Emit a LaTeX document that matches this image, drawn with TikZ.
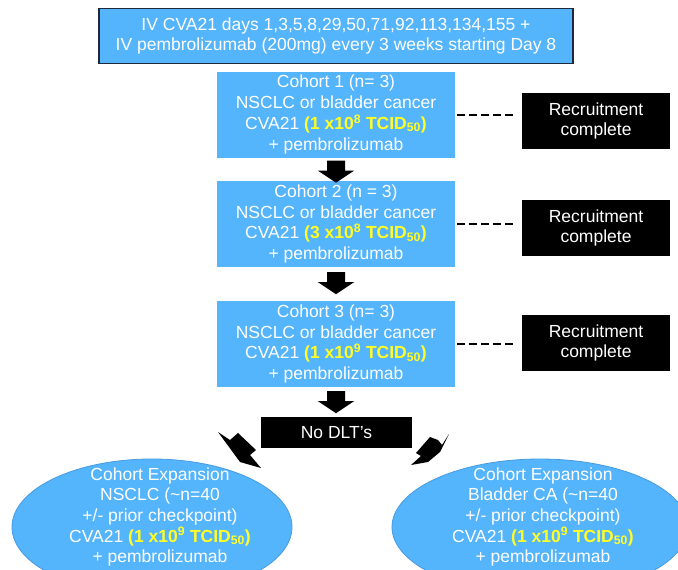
\documentclass[tikz,border=0pt]{standalone}
\usepackage{fontspec}
\setmainfont{Liberation Sans}
\usetikzlibrary{shapes.geometric}
\definecolor{boxblue}{RGB}{84,180,252}
\definecolor{ellline}{RGB}{72,155,225}
\definecolor{doseyellow}{RGB}{255,255,40}
\definecolor{topline}{RGB}{30,40,60}
\newcommand\mydose[2]{\textcolor{doseyellow}{\bfseries(#1 x10\textsuperscript{#2} TCID\textsubscript{50})}}
\begin{document}
\begin{tikzpicture}[x=1pt,y=-1pt,
  every node/.style={font=\fontsize{17.5}{20.7}\selectfont, text=white, align=center, inner sep=0pt},
  topbox/.style={fill=boxblue, draw=topline, line width=1.2pt, minimum width=474pt, minimum height=55pt},
  cohortbox/.style={fill=boxblue, minimum width=238pt, minimum height=86pt},
  recbox/.style={fill=black, minimum width=148pt, minimum height=56pt},
  dlbox/.style={fill=black, minimum width=151pt, minimum height=31pt},
  expell/.style={shape=ellipse, fill=boxblue, draw=ellline, line width=0.8pt},
  dashlink/.style={draw=black, line width=2.6pt, dash pattern=on 8pt off 4pt},
  blockdown/.pic={\fill[black] (-9,0) -- (9,0) -- (9,10) -- (18,10) -- (0,22) -- (-18,10) -- (-9,10) -- cycle;}
]
\useasboundingbox (0,0) rectangle (678,570);
\clip (0,0) rectangle (678,570);

\node[topbox] (top) at (336,36) {IV CVA21 days 1,3,5,8,29,50,71,92,113,134,155 +\\IV pembrolizumab (200mg) every 3 weeks starting Day 8};

\node[cohortbox] (c1) at (336,114.5) {Cohort 1 (n= 3)\\NSCLC or bladder cancer\\CVA21 \mydose{1}{8}\\+ pembrolizumab};
\node[cohortbox] (c2) at (336,224) {Cohort 2 (n = 3)\\NSCLC or bladder cancer\\CVA21 \mydose{3}{8}\\+ pembrolizumab};
\node[cohortbox] (c3) at (336,344) {Cohort 3 (n= 3)\\NSCLC or bladder cancer\\CVA21 \mydose{1}{9}\\+ pembrolizumab};

\node[recbox] (r1) at (596,121) {Recruitment\\complete};
\node[recbox] (r2) at (596,228) {Recruitment\\complete};
\node[recbox] (r3) at (596,343) {Recruitment\\complete};

\coordinate (d1) at (517,115);
\coordinate (d2) at (517,224);
\coordinate (d3) at (517,344);
\draw[dashlink] (c1.east |- d1) ++(2,0) -- (d1);
\draw[dashlink] (c2.east |- d2) ++(2,0) -- (d2);
\draw[dashlink] (c3.east |- d3) ++(2,0) -- (d3);

\node[dlbox] (dlt) at (336.5,432.5) {No DLT's};

\path (c1.south) ++(0,3) pic {blockdown};
\path (c2.south) ++(0,5) pic {blockdown};
\path (c3.south) ++(0,4) pic {blockdown};

\node[expell, minimum width=280pt, minimum height=136pt] (e1) at (152,527) {};
\node[expell, minimum width=296pt, minimum height=136pt] (e2) at (540,527) {};
\node (e1t) at (160,517) {Cohort Expansion\\NSCLC (\textasciitilde n=40\\+/- prior checkpoint)\\CVA21 \mydose{1}{9}\\+ pembrolizumab};
\node (e2t) at (543,517) {Cohort Expansion\\Bladder CA (\textasciitilde n=40\\+/- prior checkpoint)\\CVA21 \mydose{1}{9}\\+ pembrolizumab};

\fill[black] (218,432) -- (230,440) -- (238,433) -- (256,450) -- (250,455) -- (261,468) -- (240,462) -- cycle;
\fill[black] (449,434) -- (442,445) -- (438,440) -- (430,437) -- (416,453) -- (421,456) -- (411,465) -- (428,462) -- (440,452) -- cycle;
\end{tikzpicture}
\end{document}
